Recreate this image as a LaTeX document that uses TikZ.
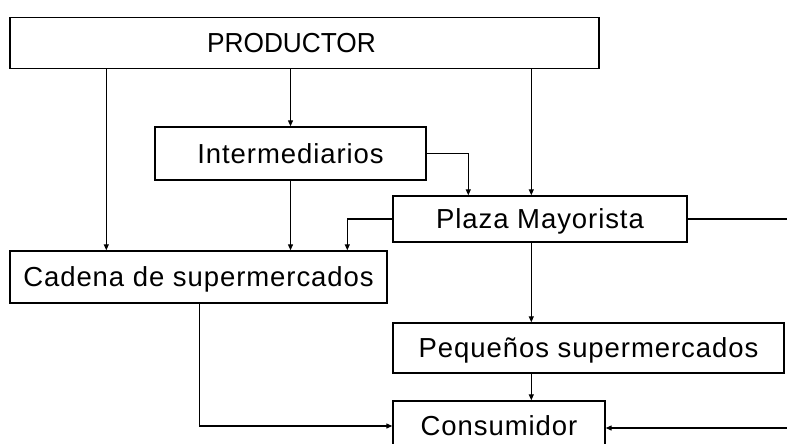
\documentclass[tikz,border=0pt]{standalone}
\usepackage{graphicx}
\usepackage{fontspec}
\setmainfont{Liberation Sans}
\newfontfamily\lab[LetterSpace=3.4]{Liberation Sans}
\usetikzlibrary{arrows.meta}
\tikzset{
  box/.style={draw, line width=1.4pt, inner sep=0pt, text height=19.7pt, text depth=0pt,
    font=\fontsize{27.5}{32}\selectfont\lab},
  arr/.style={line width=1.2pt, -{Triangle[length=6pt,width=5pt]}},
  ln/.style={line width=1.2pt}
}
\begin{document}
\begin{tikzpicture}[x=1pt,y=-1pt]
\useasboundingbox (0,0) rectangle (787,444);
\fill[white] (0,0) rectangle (787,444);
\clip (0,0) rectangle (787,444);
\node[box, minimum width=589pt, minimum height=51pt, font=\fontsize{27.5}{32}\selectfont] (prod) at (304.5,43) {\hspace*{-26pt}\scalebox{0.955}[1]{PRODUCTOR}};
\node[box, minimum width=271pt, minimum height=53pt] (inter) at (290.5,153.5) {Intermediarios};
\node[box, minimum width=294pt, minimum height=46pt] (plaza) at (540,219) {Plaza Mayorista};
\node[box, minimum width=377pt, minimum height=52pt] (cadena) at (198.5,277) {Cadena de supermercados};
\node[box, minimum width=391pt, minimum height=50pt] (peq) at (588.5,348) {Pequeños supermercados};
\node[box, minimum width=212pt, minimum height=50pt] (cons) at (499,426) {Consumidor};
\coordinate (px) at ([xshift=139pt]plaza.north west);
\coordinate (ix) at ([xshift=76pt]plaza.north west);
\coordinate (cx) at ([xshift=338pt]cadena.north west);
\coordinate (cb) at ([xshift=190pt]cadena.south west);
\coordinate (r1) at (792,219);
\coordinate (r2) at (792,428);
\draw[arr] ([xshift=97pt]prod.south west) -- ([xshift=97pt]cadena.north west);
\draw[arr] (prod.south -| inter.north) -- (inter.north);
\draw[arr] (px |- prod.south) -- (px);
\draw[arr] (inter.east) -| (ix);
\draw[arr] (inter.south) -- (inter.south |- cadena.north);
\draw[arr] (plaza.west) -| (cx);
\draw[ln] (plaza.east) -- (r1);
\draw[arr] (r2) -- (r2 -| cons.east);
\draw[arr] (px |- plaza.south) -- (px |- peq.north);
\draw[arr] (px |- peq.south) -- (px |- cons.north);
\draw[arr] (cb) |- (cons.west);
\end{tikzpicture}
\end{document}
